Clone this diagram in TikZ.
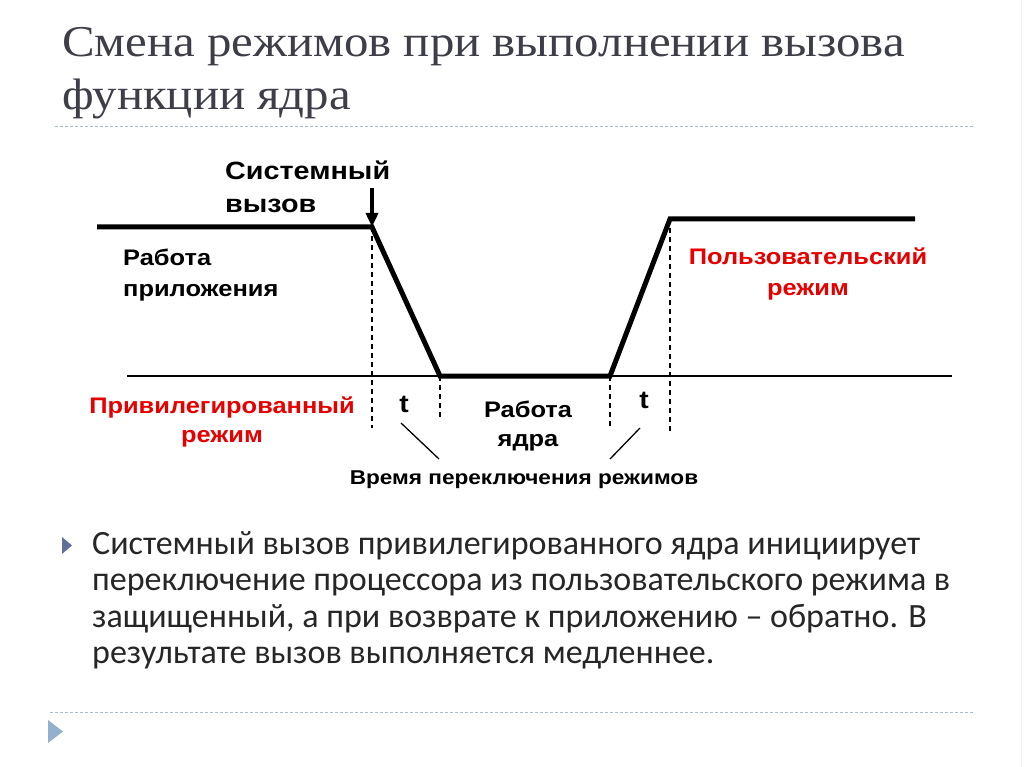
\documentclass[tikz,border=0pt]{standalone}
\usepackage{fontspec}
\setmainfont{Liberation Serif}
\newfontfamily\titlef{Liberation Serif}[FakeStretch=1.11]
\newfontfamily\arialf{Liberation Sans}[FakeStretch=1.13]
\newfontfamily\arialw{Liberation Sans}[FakeStretch=1.15]
\newfontfamily\calibrif{Carlito}
\usetikzlibrary{positioning,arrows.meta}
\definecolor{titlegray}{HTML}{3E3E48}
\definecolor{bodygray}{HTML}{262626}
\definecolor{modered}{HTML}{E60000}
\definecolor{sepblue}{HTML}{A9BCCB}
\definecolor{bulletblue}{HTML}{5F6F99}
\definecolor{bulletlight}{HTML}{93B1CC}
\tikzset{label/.style={font=\arialf\bfseries\fontsize{22.5}{31}\selectfont,align=left,inner sep=0pt}}
\tikzset{modelabel/.style={label,text=modered,align=center}}
\tikzset{signal/.style={line width=5pt,line join=miter}}
\tikzset{guide/.style={line width=1.2pt,dash pattern=on 5pt off 4pt}}
\tikzset{separator/.style={sepblue,line width=1pt,dash pattern=on 3pt off 2pt}}

\begin{document}
\begin{tikzpicture}[x=1pt,y=-1pt]
        \useasboundingbox[fill=white] (0,0) rectangle (1024,767);
        \draw[black!6,line width=1pt] (1021,0) -- (1021,767);
        % title
        \node[anchor=base west,inner sep=0pt,text=titlegray,font=\titlef\fontsize{44}{45}\selectfont] (title1) at (62,57) {Смена режимов при выполнении вызова};
        \node[anchor=base west,inner sep=0pt,text=titlegray,font=\titlef\fontsize{44}{45}\selectfont] (title2) at (62,110) {функции ядра};
        \coordinate (s1l) at (55,127); \coordinate (s1r) at (975,127);
            \draw[separator] (s1l) -- (s1r);
        % mode signal
        \coordinate (a) at (97,227);
        \coordinate (b) at (372,227);
        \coordinate (c) at (440,376);
        \coordinate (d) at (610,376);
        \coordinate (e) at (670,219);
        \coordinate (f) at (915,219);
        \coordinate (axl) at (127,376); \coordinate (axr) at (952,376);
            \draw[line width=1.8pt] (axl) -- (axr);
            \draw[signal] (a) -- (b) -- (c) -- (d) -- (e) -- (f);
        \coordinate (gb) at (372,428); \coordinate (gc) at (440,418);
        \coordinate (gd) at (610,428); \coordinate (ge) at (670,434);
            \draw[guide] (b) -- (gb);
            \draw[guide] (c) -- (gc);
            \draw[guide] (d) -- (gd);
            \draw[guide] (e) -- (ge);
        \coordinate (callstart) at (372,188);
            \draw[line width=3.5pt,-{Triangle[length=14pt,width=12pt]}] (callstart) -- (b);
        % labels
        \node[label,anchor=south west,font=\arialw\bfseries\fontsize{25}{33}\selectfont] (call) at (225,213) {Системный\\вызов};
        \node[label,anchor=north west] (app) at (123,249) {Работа\\приложения};
        \node[modelabel] (user) at (808,274) {Пользовательский\\режим};
        \node[modelabel,font=\arialf\bfseries\fontsize{22.5}{29}\selectfont] (priv) at (222,422) {Привилегированный\\режим};
        \node[label,font=\arialf\bfseries\fontsize{25}{30}\selectfont] (t1) at (404,404) {t};
        \node[label,font=\arialf\bfseries\fontsize{25}{30}\selectfont] (t2) at (644,400) {t};
        \node[label,align=center,font=\arialf\bfseries\fontsize{22.5}{29}\selectfont] (kern) at (528,426) {Работа\\ядра};
        \node[label,font=\arialf\bfseries\fontsize{20}{24}\selectfont] (switch) at (524,480) {Время переключения режимов};
        \coordinate (l1a) at (401,423); \coordinate (l1b) at (439,459);
        \coordinate (l2a) at (640,428); \coordinate (l2b) at (610,459);
            \draw[line width=1.3pt] (l1a) -- (l1b);
            \draw[line width=1.3pt] (l2a) -- (l2b);
        % bullet text
        \fill[bulletblue] (62,537) -- (62,554) -- (72,545.5) -- cycle;
        \node[anchor=north west,inner sep=0pt,align=left,text=bodygray,font=\calibrif\fontsize{34}{36.5}\selectfont] (body) at (92,531)
            {Системный вызов привилегированного ядра инициирует\\
             переключение процессора из пользовательского режима в\\
             защищенный, а при возврате к приложению – обратно. В\\
             результате вызов выполняется медленнее.};
        \coordinate (s2l) at (50,712); \coordinate (s2r) at (975,712);
            \draw[separator] (s2l) -- (s2r);
        \fill[bulletlight] (48,720) -- (48,743) -- (63,731.5) -- cycle;
    \end{tikzpicture}
\end{document}
